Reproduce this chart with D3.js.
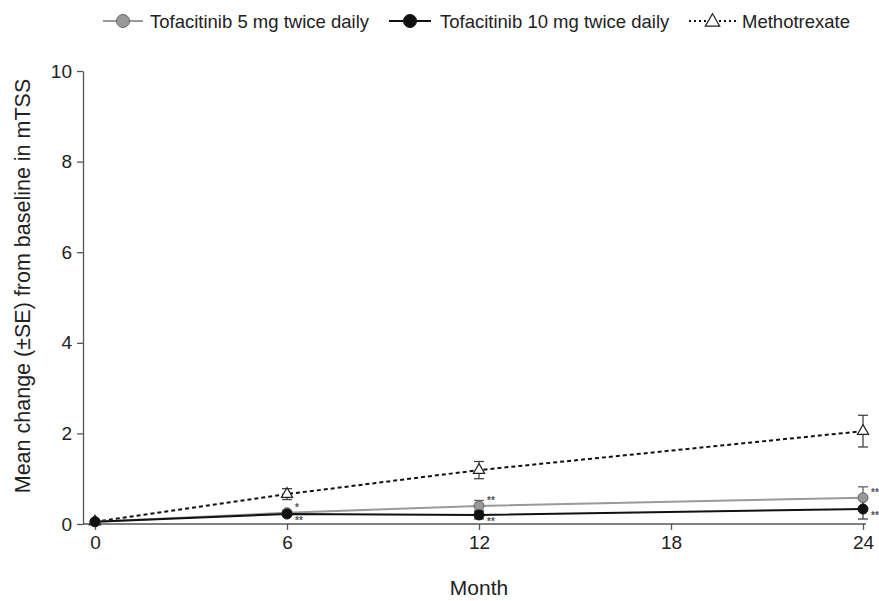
<!DOCTYPE html>
<html>
<head>
<meta charset="utf-8">
<script src="https://cdn.jsdelivr.net/npm/d3@7"></script>
<style>
  body { margin: 0; background: #fff; }
  svg { font-family: "Liberation Sans", Arial, sans-serif; }
  .axis text { font-size: 19px; fill: #222; }
  .axis path, .axis line { stroke: #555; stroke-width: 1.3; }
</style>
</head>
<body>
<svg id="chart"></svg>
<script>
// data
let months = [0, 6, 12, 24];
let xTicks = [0, 6, 12, 18, 24];
let yTicks = [0, 2, 4, 6, 8, 10];

let tofa5 = [0.05, 0.25, 0.40, 0.58];
let tofa5Se = [0, 0.05, 0.12, 0.24];
let tofa5Marks = ['', '*', '**', '**'];

let tofa10 = [0.05, 0.22, 0.20, 0.33];
let tofa10Se = [0, 0.04, 0.09, 0.22];
let tofa10Marks = ['', '**', '**', '**'];

let mtx = [0.05, 0.66, 1.19, 2.05];
let mtxSe = [0, 0.12, 0.19, 0.35];

let config = { svg: {}, margin: {}, plot: {} };
config.svg.width = 879;
config.svg.height = 601;
config.margin.top = 71;
config.margin.left = 95;
config.margin.right = 16;
config.margin.bottom = 77;
config.plot.width = config.svg.width - config.margin.left - config.margin.right;
config.plot.height = config.svg.height - config.margin.top - config.margin.bottom;

let svg = d3.select('svg#chart')
  .attr('width', config.svg.width)
  .attr('height', config.svg.height);

let scale = {};
scale.x = d3.scaleLinear().domain([0, 24]).range([config.margin.left, config.margin.left + config.plot.width]);
scale.y = d3.scaleLinear().domain([0, 10]).range([config.margin.top + config.plot.height, config.margin.top]);

let yAxisX = scale.x(0) - 12;

// axes
let gx = svg.append('g').attr('class', 'axis')
  .attr('transform', translate(0, scale.y(0)))
  .call(d3.axisBottom(scale.x).tickValues(xTicks).tickSize(6).tickSizeOuter(0).tickPadding(6));
gx.select('.domain').remove();
gx.append('line')
  .attr('x1', yAxisX).attr('x2', scale.x(24) + 3)
  .attr('stroke', '#555').attr('stroke-width', 1.3);

let gy = svg.append('g').attr('class', 'axis')
  .attr('transform', translate(yAxisX, 0))
  .call(d3.axisLeft(scale.y).tickValues(yTicks).tickSize(6).tickSizeOuter(0).tickPadding(5));

svg.append('text')
  .attr('x', scale.x(12)).attr('y', 595)
  .attr('text-anchor', 'middle').style('font-size', '21px').attr('fill', '#222')
  .text('Month');

svg.append('text')
  .attr('transform', translate(30, 286) + ' rotate(-90)')
  .attr('text-anchor', 'middle').style('font-size', '21.5px').attr('fill', '#222')
  .text('Mean change (\u00b1SE) from baseline in mTSS');

let line = d3.line().x((d, i) => scale.x(months[i])).y(d => scale.y(d));

function errorBars(vals, se, color) {
  let g = svg.append('g');
  months.forEach(function(m, i) {
    if (!se[i]) return;
    let x = scale.x(m);
    let y1 = scale.y(vals[i] + se[i]);
    let y2 = scale.y(Math.max(vals[i] - se[i], 0));
    g.append('line').attr('x1', x).attr('x2', x).attr('y1', y1).attr('y2', y2)
      .attr('stroke', color).attr('stroke-width', 1.3);
    [y1, y2].forEach(function(y) {
      g.append('line').attr('x1', x - 5).attr('x2', x + 5).attr('y1', y).attr('y2', y)
        .attr('stroke', color).attr('stroke-width', 1.3);
    });
  });
}

function stars(vals, marks, dy) {
  months.forEach(function(m, i) {
    if (!marks[i]) return;
    svg.append('text')
      .attr('x', scale.x(m) + 8).attr('y', scale.y(vals[i]) + dy)
      .style('font-size', '10px').style('font-weight', 'bold').attr('fill', '#555')
      .text(marks[i]);
  });
}

// methotrexate
errorBars(mtx, mtxSe, '#444');
svg.append('path').datum(mtx).attr('d', line)
  .attr('fill', 'none').attr('stroke', '#111').attr('stroke-width', 2).attr('stroke-dasharray', '4,3');
let tri = d3.symbol().type(d3.symbolTriangle).size(55);
svg.selectAll('path.mtx').data(mtx).enter().append('path')
  .attr('class', 'mtx')
  .attr('d', tri)
  .attr('transform', (d, i) => translate(scale.x(months[i]), scale.y(d)))
  .attr('fill', '#fff').attr('stroke', '#222').attr('stroke-width', 1.2);

// tofacitinib 5 mg
errorBars(tofa5, tofa5Se, '#666');
svg.append('path').datum(tofa5).attr('d', line)
  .attr('fill', 'none').attr('stroke', '#999').attr('stroke-width', 2);

// tofacitinib 10 mg
errorBars(tofa10, tofa10Se, '#444');
svg.append('path').datum(tofa10).attr('d', line)
  .attr('fill', 'none').attr('stroke', '#111').attr('stroke-width', 2);

svg.selectAll('circle.t5').data(tofa5).enter().append('circle')
  .attr('class', 't5')
  .attr('cx', (d, i) => scale.x(months[i])).attr('cy', d => scale.y(d)).attr('r', 5)
  .attr('fill', '#999').attr('stroke', '#666').attr('stroke-width', 1);

svg.selectAll('circle.t10').data(tofa10).enter().append('circle')
  .attr('class', 't10')
  .attr('cx', (d, i) => scale.x(months[i])).attr('cy', d => scale.y(d)).attr('r', 5)
  .attr('fill', '#111').attr('stroke', '#111').attr('stroke-width', 1);

stars(tofa5, tofa5Marks, -2);
stars(tofa10, tofa10Marks, 10);

// legend
let legend = svg.append('g').attr('transform', translate(0, 21));
let items = [
  { label: 'Tofacitinib 5 mg twice daily', x0: 103, x1: 143, text: 150, color: '#999', fill: '#999', stroke: '#666', dash: null, shape: 'circle' },
  { label: 'Tofacitinib 10 mg twice daily', x0: 389, x1: 431, text: 440, color: '#111', fill: '#111', stroke: '#111', dash: null, shape: 'circle' },
  { label: 'Methotrexate', x0: 689, x1: 736, text: 742, color: '#111', fill: '#fff', stroke: '#222', dash: '2,3', shape: 'triangle' }
];
items.forEach(function(it) {
  legend.append('line').attr('x1', it.x0).attr('x2', it.x1)
    .attr('stroke', it.color).attr('stroke-width', 2).attr('stroke-dasharray', it.dash);
  let cx = (it.x0 + it.x1) / 2;
  if (it.shape === 'circle') {
    legend.append('circle').attr('cx', cx).attr('r', 6.5)
      .attr('fill', it.fill).attr('stroke', it.stroke);
  } else {
    legend.append('path').attr('d', d3.symbol().type(d3.symbolTriangle).size(90))
      .attr('transform', translate(cx, 1))
      .attr('fill', it.fill).attr('stroke', it.stroke).attr('stroke-width', 1.2);
  }
  legend.append('text').attr('x', it.text).attr('y', 7)
    .style('font-size', '18.5px').attr('fill', '#222')
    .text(it.label);
});

function translate(x, y) {
  return 'translate(' + x + ',' + y + ')';
}
</script>
</body>
</html>
